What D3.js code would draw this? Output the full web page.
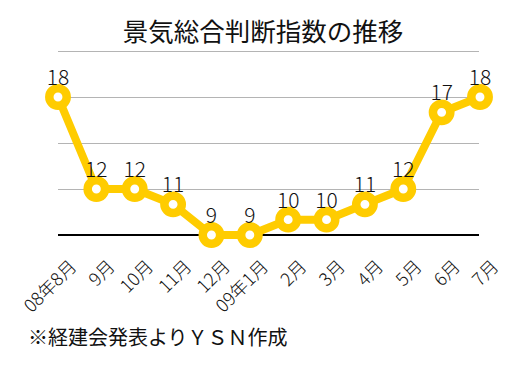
<!DOCTYPE html>
<html>
<head>
<meta charset="utf-8">
<script src="https://cdn.jsdelivr.net/npm/d3@7"></script>
<style>
  body { margin: 0; background: #fff; }
  text { font-family: "Noto Sans CJK JP", "Noto Sans", sans-serif; fill: #111; }
</style>
</head>
<body>
<div id="chart"></div>
<script>
var width = 526;
var height = 369;

const months = ["08年8月", "9月", "10月", "11月", "12月", "09年1月", "2月", "3月", "4月", "5月", "6月", "7月"];
const values = [18, 12, 12, 11, 9, 9, 10, 10, 11, 12, 17, 18];
const gridTicks = [12, 15, 18, 21];

const svg = d3.select("#chart")
    .append("svg")
    .attr("width", width)
    .attr("height", height);

var x = d3.scalePoint()
    .domain(months)
    .range([58, 480]);

var y = d3.scaleLinear()
    .domain([9, 21])
    .range([235, 51]);

// title
svg.append("text")
    .attr("x", 263)
    .attr("y", 41)
    .attr("text-anchor", "middle")
    .attr("font-size", 25.5)
    .text("景気総合判断指数の推移");

// grid lines
svg.selectAll(".grid")
    .data(gridTicks)
    .enter().append("line")
    .attr("class", "grid")
    .attr("x1", 58)
    .attr("x2", 479)
    .attr("y1", d => Math.round(y(d)) + 0.5)
    .attr("y2", d => Math.round(y(d)) + 0.5)
    .attr("stroke", "#b4b4b4")
    .attr("stroke-width", 1);

// baseline
svg.append("line")
    .attr("x1", 58)
    .attr("x2", 479)
    .attr("y1", y(9))
    .attr("y2", y(9))
    .attr("stroke", "#000")
    .attr("stroke-width", 2);

// line
var line = d3.line()
    .x((d, i) => x(months[i]))
    .y(d => y(d));

svg.append("path")
    .datum(values)
    .attr("fill", "none")
    .attr("stroke", "#ffcc00")
    .attr("stroke-width", 8)
    .attr("stroke-linejoin", "round")
    .attr("d", line);

// points
svg.selectAll(".pt")
    .data(values)
    .enter().append("circle")
    .attr("class", "pt")
    .attr("cx", (d, i) => x(months[i]))
    .attr("cy", d => y(d))
    .attr("r", 8.7)
    .attr("fill", "#fff")
    .attr("stroke", "#ffcc00")
    .attr("stroke-width", 8.5);

// value labels
svg.selectAll(".val")
    .data(values)
    .enter().append("text")
    .attr("class", "val")
    .attr("x", (d, i) => x(months[i]))
    .attr("y", d => y(d) - 12)
    .attr("text-anchor", "middle")
    .attr("font-size", 21)
    .attr("font-weight", 300)
    .text(d => d);

// x axis labels, rotated
svg.selectAll(".xl")
    .data(months)
    .enter().append("text")
    .attr("class", "xl")
    .attr("text-anchor", "end")
    .attr("dominant-baseline", "central")
    .attr("font-size", 18)
    .attr("font-weight", 300)
    .attr("transform", d => "translate(" + (x(d) + 14) + ",262) rotate(-45)")
    .text(d => d);

// source note
svg.append("text")
    .attr("x", 28)
    .attr("y", 345)
    .attr("font-size", 20)
    .text("※経建会発表よりＹＳＮ作成");
</script>
</body>
</html>
